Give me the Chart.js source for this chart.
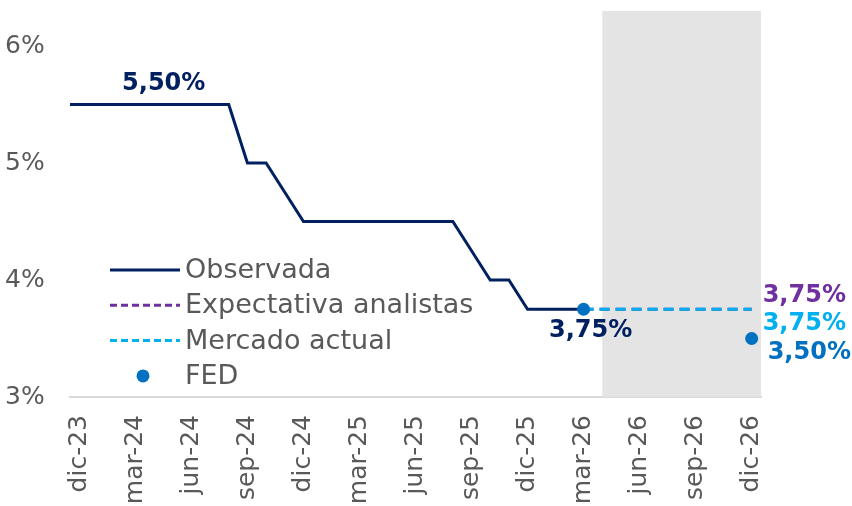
<!DOCTYPE html>
<html>
<head>
<meta charset="utf-8">
<script src="https://cdn.jsdelivr.net/npm/chart.js@4.4.1/dist/chart.umd.min.js"></script>
<style>
  html, body { margin: 0; padding: 0; background: #fff; }
</style>
</head>
<body>
<canvas id="chart" width="852" height="506"></canvas>
<script>
// meses (nov-23 queda fuera del eje, solo para que la línea arranque en el borde)
const meses = [
  'nov-23', 'dic-23',
  'ene-24', 'feb-24', 'mar-24', 'abr-24', 'may-24', 'jun-24', 'jul-24', 'ago-24', 'sep-24', 'oct-24', 'nov-24', 'dic-24',
  'ene-25', 'feb-25', 'mar-25', 'abr-25', 'may-25', 'jun-25', 'jul-25', 'ago-25', 'sep-25', 'oct-25', 'nov-25', 'dic-25',
  'ene-26', 'feb-26', 'mar-26', 'abr-26', 'may-26', 'jun-26', 'jul-26', 'ago-26', 'sep-26', 'oct-26', 'nov-26', 'dic-26'
];

const observada = [
  5.5, 5.5,
  5.5, 5.5, 5.5, 5.5, 5.5, 5.5, 5.5, 5.5, 5.0, 5.0, 4.75, 4.5,
  4.5, 4.5, 4.5, 4.5, 4.5, 4.5, 4.5, 4.5, 4.25, 4.0, 4.0, 3.75,
  3.75, 3.75, 3.75, null, null, null, null, null, null, null, null, null
];

const expectativa = [
  null, null,
  null, null, null, null, null, null, null, null, null, null, null, null,
  null, null, null, null, null, null, null, null, null, null, null, null,
  null, null, 3.75, 3.75, 3.75, 3.75, 3.75, 3.75, 3.75, 3.75, 3.75, 3.75
];

const mercado = [
  null, null,
  null, null, null, null, null, null, null, null, null, null, null, null,
  null, null, null, null, null, null, null, null, null, null, null, null,
  null, null, 3.75, 3.75, 3.75, 3.75, 3.75, 3.75, 3.75, 3.75, 3.75, 3.75
];

const fed = [
  null, null,
  null, null, null, null, null, null, null, null, null, null, null, null,
  null, null, null, null, null, null, null, null, null, null, null, null,
  null, null, 3.75, null, null, null, null, null, null, null, null, 3.5
];

const primerMes = 'dic-23';
const inicioProyeccion = 'abr-26';
const mesesEtiqueta = ['dic', 'mar', 'jun', 'sep'];

const FUENTE = '"DejaVu Sans", sans-serif';
const GRIS = '#595959';

function fmt(v) {
  return v.toFixed(2).replace('.', ',') + '%';
}

// zona sombreada de proyección
const sombra = {
  id: 'sombra',
  beforeDatasetsDraw(chart) {
    const { ctx, chartArea, scales } = chart;
    const x0 = scales.x.getPixelForValue(meses.indexOf(inicioProyeccion));
    ctx.save();
    ctx.fillStyle = '#E4E4E4';
    ctx.fillRect(x0, chartArea.top, chartArea.right - x0, chartArea.bottom - chartArea.top);
    ctx.restore();
  }
};

// etiquetas de valores
const etiquetas = [
  { serie: 0, mes: 'may-24', color: '#002060', dx: -9, dy: -21, align: 'center' },
  { serie: 0, mes: 'mar-26', color: '#002060', dx: 7, dy: 21, align: 'center' },
  { serie: 1, mes: 'dic-26', color: '#7030A0', dx: 11, dy: -14, align: 'left' },
  { serie: 2, mes: 'dic-26', color: '#00B0F0', dx: 11, dy: 14, align: 'left' },
  { serie: 3, mes: 'dic-26', color: '#0070C0', dx: 16, dy: 14, align: 'left' }
];

const rotulos = {
  id: 'rotulos',
  afterDatasetsDraw(chart) {
    const { ctx, scales } = chart;
    ctx.save();
    ctx.font = 'bold 24px ' + FUENTE;
    ctx.textBaseline = 'middle';
    etiquetas.forEach(e => {
      const i = meses.indexOf(e.mes);
      const v = chart.data.datasets[e.serie].data[i];
      const x = scales.x.getPixelForValue(i);
      const y = scales.y.getPixelForValue(v);
      ctx.fillStyle = e.color;
      ctx.textAlign = e.align;
      ctx.fillText(fmt(v), x + e.dx, y + e.dy);
    });
    ctx.restore();
  }
};

// leyenda dentro del área del gráfico
const leyenda = {
  id: 'leyenda',
  afterDraw(chart) {
    const { ctx, chartArea } = chart;
    const x = chartArea.left + 40;
    let y = chartArea.bottom - 127;
    ctx.save();
    ctx.font = '27px ' + FUENTE;
    ctx.textBaseline = 'middle';
    ctx.textAlign = 'left';
    chart.data.datasets.forEach(ds => {
      if (ds.showLine === false) {
        ctx.fillStyle = ds.backgroundColor;
        ctx.beginPath();
        ctx.arc(x + 33, y, 6.5, 0, Math.PI * 2);
        ctx.fill();
      } else {
        ctx.strokeStyle = ds.borderColor;
        ctx.lineWidth = 3;
        ctx.setLineDash(ds.borderDash ? [7, 4] : []);
        ctx.beginPath();
        ctx.moveTo(x, y);
        ctx.lineTo(x + 70, y);
        ctx.stroke();
        ctx.setLineDash([]);
      }
      ctx.fillStyle = GRIS;
      ctx.fillText(ds.label, x + 75, y + 1);
      y += 35.3;
    });
    ctx.restore();
  }
};

new Chart(document.getElementById('chart'), {
  type: 'line',
  data: {
    labels: meses,
    datasets: [
      {
        label: 'Observada',
        data: observada,
        borderColor: '#002060',
        borderWidth: 3,
        pointRadius: 0,
        tension: 0,
        order: 3
      },
      {
        label: 'Expectativa analistas',
        data: expectativa,
        borderColor: '#7030A0',
        borderWidth: 3,
        borderDash: [10, 6],
        pointRadius: 0,
        order: 2
      },
      {
        label: 'Mercado actual',
        data: mercado,
        borderColor: '#00B0F0',
        borderWidth: 3,
        borderDash: [10, 6],
        pointRadius: 0,
        order: 1
      },
      {
        label: 'FED',
        data: fed,
        showLine: false,
        backgroundColor: '#0070C0',
        borderWidth: 0,
        pointRadius: 6.5,
        pointHoverRadius: 6.5,
        order: 0
      }
    ]
  },
  options: {
    responsive: false,
    animation: false,
    events: [],
    layout: { padding: { left: 5, right: 91, top: 11, bottom: 0 } },
    plugins: {
      legend: { display: false },
      tooltip: { enabled: false }
    },
    scales: {
      x: {
        min: primerMes,
        offset: true,
        grid: { display: false, drawTicks: false },
        border: { display: true, color: '#D9D9D9', width: 2 },
        ticks: {
          autoSkip: false,
          minRotation: 90,
          maxRotation: 90,
          padding: 18,
          color: GRIS,
          font: { family: FUENTE, size: 25 },
          callback(value) {
            const lab = this.getLabelForValue(value);
            return mesesEtiqueta.includes(lab.slice(0, 3)) ? lab : null;
          }
        },
        afterFit(scale) { scale.height = 109; }
      },
      y: {
        min: 3,
        max: 6.3,
        grid: { display: false, drawTicks: false },
        border: { display: false },
        ticks: {
          stepSize: 1,
          crossAlign: 'far',
          color: GRIS,
          font: { family: FUENTE, size: 25 },
          callback: v => v + '%'
        },
        afterBuildTicks(scale) {
          scale.ticks = scale.ticks.filter(t => Number.isInteger(t.value));
        },
        afterFit(scale) {
          scale.width = 65;
          scale.paddingTop = 0;
          scale.paddingBottom = 0;
        }
      }
    }
  },
  plugins: [sombra, rotulos, leyenda]
});
</script>
</body>
</html>
